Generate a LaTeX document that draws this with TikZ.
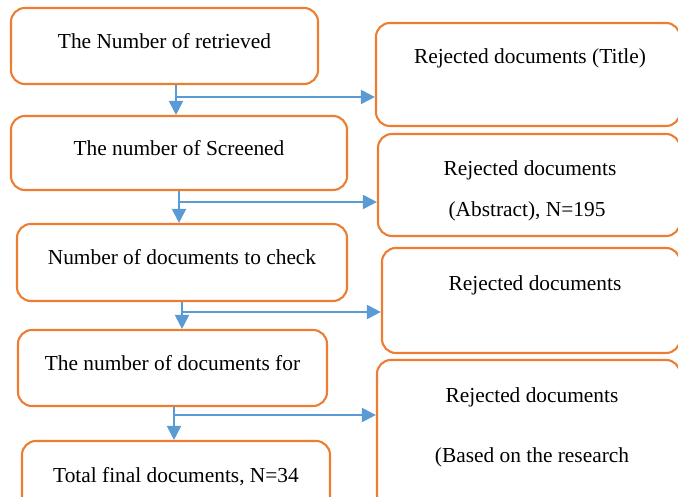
\documentclass[tikz,border=0pt]{standalone}
\usepackage{fontspec}
\setmainfont{Liberation Serif}
\usetikzlibrary{arrows.meta, positioning}

\definecolor{boxorange}{HTML}{ED7D31}
\definecolor{flowblue}{HTML}{5B9BD5}

\begin{document}
\begin{tikzpicture}[
    x=0.025cm, y=-0.025cm,
    block/.style = {draw=boxorange, line width=1.5pt, rounded corners=0.35cm, fill=white},
    txt/.style = {font=\fontsize{15.2}{18}\selectfont, inner sep=0pt},
    step text/.style = {text height=0.4cm, text depth=0.28cm},
    arrow/.style = {draw=flowblue, line width=1.5pt, -{Triangle[width=10pt,length=10pt]}}
  ]

  \useasboundingbox (0,0) rectangle (678,497);
  \clip (0,0) rectangle (678,497);

  % Main column of steps
  \node[block, txt, step text, minimum width=7.675cm, minimum height=1.9cm] (retrieved) at (164.5,46) {The Number of retrieved};
  \node[block, txt, step text, minimum width=8.4cm, minimum height=1.85cm] (screened) at (179,153) {The number of Screened};
  \node[block, txt, step text, minimum width=8.25cm, minimum height=1.925cm] (check) at (182,262.5) {Number of documents to check};
  \node[block, txt, step text, minimum width=7.725cm, minimum height=1.9cm] (docsfor) at (172.5,368) {The number of documents for};
  \node[block, txt, step text, minimum width=7.7cm, minimum height=1.975cm] (final) at (176,480.5) {Total final documents, N=34};

  % Rejected documents on the right
  \node[block, minimum width=7.6cm, minimum height=2.575cm] (rejtitle) at (528,74.5) {};
  \node[block, minimum width=7.55cm, minimum height=2.55cm] (rejabstract) at (529,185) {};
  \node[block, minimum width=7.45cm, minimum height=2.625cm] (rejcontent) at (531,300.5) {};
  \node[block, minimum width=7.575cm, minimum height=4cm] (rejresearch) at (528.5,440) {};

  \node[txt] (rejtitletext) at (530,58) {Rejected documents (Title)};
  \node[txt] (rejabstracta) at (530,170) {Rejected documents};
  \node[txt] (rejabstractb) at (527,211) {(Abstract), N=195};
  \node[txt] (rejcontenttext) at (535,285) {Rejected documents};
  \node[txt] (rejresearcha) at (532,397) {Rejected documents};
  \node[txt] (rejresearchb) at (532,457) {(Based on the research};

  % junctions of the arrows
  \coordinate (j1) at (176,97);
  \coordinate (j2) at (179,202);
  \coordinate (j3) at (182,312);
  \coordinate (j4) at (174,415);

  \draw[arrow] (j1 |- retrieved.south) -- (j1 |- screened.north);
  \draw[arrow] (j1) -- (j1 -| rejtitle.west);

  \draw[arrow] (j2 |- screened.south) -- (j2 |- check.north);
  \draw[arrow] (j2) -- (j2 -| rejabstract.west);

  \draw[arrow] (j3 |- check.south) -- (j3 |- docsfor.north);
  \draw[arrow] (j3) -- (j3 -| rejcontent.west);

  \draw[arrow] (j4 |- docsfor.south) -- (j4 |- final.north);
  \draw[arrow] (j4) -- (j4 -| rejresearch.west);

\end{tikzpicture}
\end{document}
